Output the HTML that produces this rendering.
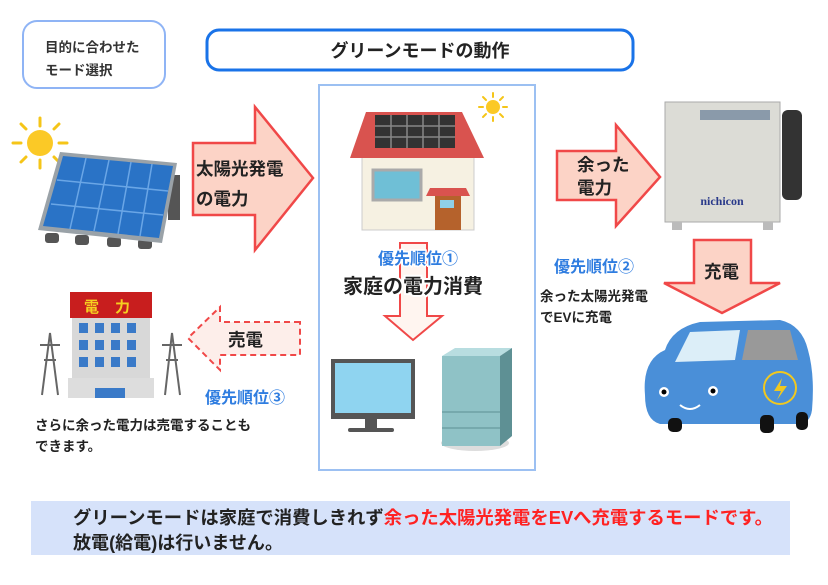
<!DOCTYPE html>
<html><head><meta charset="utf-8"><style>
html,body{margin:0;padding:0;background:#fff;}
svg{display:block;font-family:"Liberation Sans","Noto Sans CJK JP",sans-serif;}
</style></head><body>
<svg width="828" height="585" viewBox="0 0 828 585" xmlns="http://www.w3.org/2000/svg">
<!-- top-left box -->
<rect x="23" y="21" width="142" height="67" rx="14" fill="#fff" stroke="#8fb4f5" stroke-width="2"/>
<text x="45" y="52" font-size="13.5" font-weight="bold" fill="#333">目的に合わせた</text>
<text x="45" y="75" font-size="13.5" font-weight="bold" fill="#333">モード選択</text>
<!-- title -->
<rect x="207" y="30" width="426" height="40" rx="12" fill="#fff" stroke="#1a73e8" stroke-width="3"/>
<text x="420" y="57" font-size="18" font-weight="bold" fill="#222" text-anchor="middle">グリーンモードの動作</text>
<!-- center box -->
<rect x="319" y="85" width="216" height="385" fill="#fff" stroke="#9cc0f2" stroke-width="2"/>

<!-- sun left -->
<g stroke="#f5c518" stroke-width="3" stroke-linecap="round">
<line x1="40" y1="118" x2="40" y2="126"/><line x1="40" y1="160" x2="40" y2="168"/>
<line x1="13" y1="143" x2="21" y2="143"/><line x1="59" y1="143" x2="67" y2="143"/>
<line x1="21" y1="124" x2="26" y2="129"/><line x1="54" y1="157" x2="59" y2="162"/>
<line x1="21" y1="162" x2="26" y2="157"/><line x1="54" y1="129" x2="59" y2="124"/>
</g>
<circle cx="40" cy="143" r="13" fill="#fbc926"/>
<!-- solar panel -->
<rect x="168" y="175" width="12" height="45" fill="#555"/>
<g fill="#555"><rect x="45" y="233" width="14" height="10" rx="3"/><rect x="75" y="235" width="14" height="10" rx="3"/><rect x="107" y="237" width="14" height="10" rx="3"/><rect x="138" y="239" width="14" height="10" rx="3"/></g>
<polygon points="60,152 177,163 162,243 38,230" fill="#9aa2a8"/>
<polygon points="63,156 173,166 159,238 43,226" fill="#2a73c6"/>
<g stroke="#6aa6e6" stroke-width="1.5">
<line x1="86" y1="158" x2="70" y2="229"/><line x1="109" y1="160" x2="94" y2="231"/><line x1="131" y1="162" x2="118" y2="234"/><line x1="152" y1="164" x2="140" y2="236"/>
<line x1="57" y1="180" x2="168" y2="191"/><line x1="51" y1="204" x2="163" y2="215"/>
</g>
<!-- arrow 1 -->
<polygon points="193,143 255,143 255,107 313,178 255,250 255,215 193,215" fill="#fcd3c6" stroke="#f04848" stroke-width="2.5"/>
<text x="196" y="175" font-size="17.5" font-weight="bold" fill="#222">太陽光発電</text>
<text x="196" y="205" font-size="17.5" font-weight="bold" fill="#222">の電力</text>

<!-- house -->
<rect x="362" y="150" width="112" height="80" fill="#f6f1e2" stroke="#ccc"/>
<polygon points="366,112 462,112 484,158 350,158" fill="#d9534f"/>
<rect x="375" y="115" width="80" height="33" fill="#333"/>
<g stroke="#888" stroke-width="1.5"><line x1="375" y1="126" x2="455" y2="126"/><line x1="375" y1="137" x2="455" y2="137"/><line x1="391" y1="115" x2="391" y2="148"/><line x1="407" y1="115" x2="407" y2="148"/><line x1="423" y1="115" x2="423" y2="148"/><line x1="439" y1="115" x2="439" y2="148"/></g>
<rect x="373" y="170" width="48" height="30" fill="#6fbfd6" stroke="#aaa" stroke-width="3"/>
<polygon points="430,188 466,188 470,196 426,196" fill="#d9534f"/>
<rect x="435" y="196" width="26" height="34" fill="#b5622c"/>
<rect x="440" y="200" width="14" height="8" fill="#8fd0e8"/>
<!-- sun small -->
<g stroke="#f5c518" stroke-width="2" stroke-linecap="round">
<line x1="493" y1="93" x2="493" y2="97"/><line x1="493" y1="117" x2="493" y2="121"/><line x1="479" y1="107" x2="483" y2="107"/><line x1="503" y1="107" x2="507" y2="107"/>
<line x1="483" y1="97" x2="486" y2="100"/><line x1="500" y1="114" x2="503" y2="117"/><line x1="483" y1="117" x2="486" y2="114"/><line x1="500" y1="100" x2="503" y2="97"/></g>
<circle cx="493" cy="107" r="7" fill="#fbc926"/>
<!-- down arrow center -->
<polygon points="400,243 427,243 427,316 442,316 413,340 385,316 400,316" fill="#fff5f0" stroke="#f04848" stroke-width="2"/>
<text x="378" y="264" font-size="16" font-weight="bold" fill="#2f7de0" stroke="#fff" stroke-width="3" paint-order="stroke">優先順位①</text>
<text x="343" y="293" font-size="20" font-weight="bold" fill="#222" stroke="#fff" stroke-width="4" paint-order="stroke">家庭の電力消費</text>
<!-- TV -->
<rect x="331" y="359" width="84" height="60" fill="#555"/>
<rect x="335" y="363" width="76" height="50" fill="#8fd4f0"/>
<rect x="365" y="419" width="12" height="10" fill="#555"/><rect x="348" y="428" width="46" height="4" rx="2" fill="#555"/>
<!-- fridge -->
<ellipse cx="475" cy="443" rx="34" ry="8" fill="#ddd"/>
<polygon points="442,356 455,348 512,348 500,356" fill="#b8dde0"/>
<rect x="442" y="356" width="58" height="90" fill="#8fc2c6"/>
<polygon points="500,356 512,348 512,436 500,446" fill="#5e9094"/>
<line x1="442" y1="412" x2="500" y2="412" stroke="#5e9094"/><line x1="442" y1="428" x2="500" y2="428" stroke="#5e9094"/>

<!-- arrow 2 -->
<polygon points="557,151 616,151 616,125 660,177 616,226 616,200 557,200" fill="#fcd3c6" stroke="#f04848" stroke-width="2.5"/>
<text x="577" y="171" font-size="17.5" font-weight="bold" fill="#222">余った</text>
<text x="577" y="194" font-size="17.5" font-weight="bold" fill="#222">電力</text>
<!-- nichicon unit -->
<rect x="665" y="102" width="115" height="120" fill="#dcdcd6" stroke="#aaa"/>
<rect x="700" y="110" width="70" height="10" fill="#8a9aaa"/>
<rect x="672" y="222" width="10" height="8" fill="#bbb"/><rect x="763" y="222" width="10" height="8" fill="#bbb"/>
<rect x="782" y="110" width="20" height="90" rx="6" fill="#333"/>
<text x="722" y="205" font-size="12" font-weight="bold" fill="#2a3a8a" text-anchor="middle" font-family="Liberation Serif, serif">nichicon</text>
<!-- priority 2 -->
<text x="554" y="272" font-size="16" font-weight="bold" fill="#2f7de0">優先順位②</text>
<text x="540" y="301" font-size="13.5" font-weight="bold" fill="#222">余った太陽光発電</text>
<text x="540" y="322" font-size="13.5" font-weight="bold" fill="#222">でEVに充電</text>
<!-- arrow 3 down -->
<polygon points="694,240 751,240 751,283 780,283 722,313 664,283 694,283" fill="#fcd3c6" stroke="#f04848" stroke-width="2.5"/>
<text x="704" y="278" font-size="17.5" font-weight="bold" fill="#222">充電</text>
<!-- car -->
<path d="M645,395 Q642,360 665,350 Q672,328 700,322 L780,320 Q802,325 808,350 Q815,375 812,410 Q810,424 798,424 L660,424 Q645,420 645,395 Z" fill="#4a8fd8"/>
<path d="M690,332 L740,330 L735,360 L675,362 Z" fill="#dceef8"/>
<path d="M748,330 L790,330 L798,360 L742,360 Z" fill="#999"/>
<circle cx="664" cy="392" r="5" fill="#fff"/><circle cx="664" cy="392" r="2.5" fill="#000"/>
<circle cx="713" cy="391" r="5" fill="#fff"/><circle cx="713" cy="391" r="2.5" fill="#000"/>
<path d="M680,405 Q690,413 700,405" stroke="#fff" stroke-width="2" fill="none"/>
<circle cx="780" cy="388" r="16" fill="none" stroke="#f0c820" stroke-width="2"/>
<polygon points="782,378 774,391 781,391 777,400 787,386 780,386" fill="#f0c820"/>
<rect x="668" y="418" width="14" height="14" rx="5" fill="#111"/><rect x="760" y="415" width="14" height="18" rx="5" fill="#111"/><rect x="796" y="412" width="12" height="18" rx="5" fill="#111"/>

<!-- building -->
<rect x="70" y="292" width="82" height="26" fill="#c81e1e"/>
<text x="84" y="312" font-size="15" font-weight="bold" fill="#f5d020">電</text><text x="115" y="312" font-size="15" font-weight="bold" fill="#f5d020">力</text>
<rect x="72" y="318" width="78" height="60" fill="#d8d8d8"/>
<g fill="#3a7ac8">
<rect x="79" y="323" width="9" height="10"/><rect x="95" y="323" width="9" height="10"/><rect x="111" y="323" width="9" height="10"/><rect x="127" y="323" width="9" height="10"/>
<rect x="79" y="340" width="9" height="10"/><rect x="95" y="340" width="9" height="10"/><rect x="111" y="340" width="9" height="10"/><rect x="127" y="340" width="9" height="10"/>
<rect x="79" y="357" width="9" height="10"/><rect x="95" y="357" width="9" height="10"/><rect x="111" y="357" width="9" height="10"/><rect x="127" y="357" width="9" height="10"/>
</g>
<rect x="68" y="378" width="86" height="20" fill="#ddd"/>
<rect x="95" y="388" width="30" height="10" fill="#3a7ac8"/>
<g stroke="#666" stroke-width="2" fill="none"><path d="M42,395 L50,333 L58,395 M44,360 L56,360 M40,345 L60,345"/><path d="M165,395 L172,333 L180,395 M166,360 L178,360 M162,345 L182,345"/></g>
<!-- dashed arrow -->
<polygon points="300,322 220,322 220,307 188,338 220,370 220,355 300,355" fill="#fdeeea" stroke="#f04848" stroke-width="2" stroke-dasharray="6,4"/>
<text x="228" y="346" font-size="17.5" font-weight="bold" fill="#222">売電</text>
<text x="205" y="403" font-size="16" font-weight="bold" fill="#2f7de0">優先順位③</text>
<text x="35" y="430" font-size="13.5" font-weight="bold" fill="#222">さらに余った電力は売電することも</text>
<text x="35" y="451" font-size="13.5" font-weight="bold" fill="#222">できます。</text>

<!-- bottom band -->
<rect x="31" y="501" width="759" height="54" fill="#d6e2fa"/>
<text x="73" y="524" font-size="18" font-weight="bold" fill="#222" textLength="700" lengthAdjust="spacingAndGlyphs">グリーンモードは家庭で消費しきれず<tspan fill="#f22">余った太陽光発電をEVへ充電するモードです。</tspan></text>
<text x="73" y="549" font-size="18" font-weight="bold" fill="#222" textLength="210" lengthAdjust="spacingAndGlyphs">放電(給電)は行いません。</text>
</svg>
</body></html>
